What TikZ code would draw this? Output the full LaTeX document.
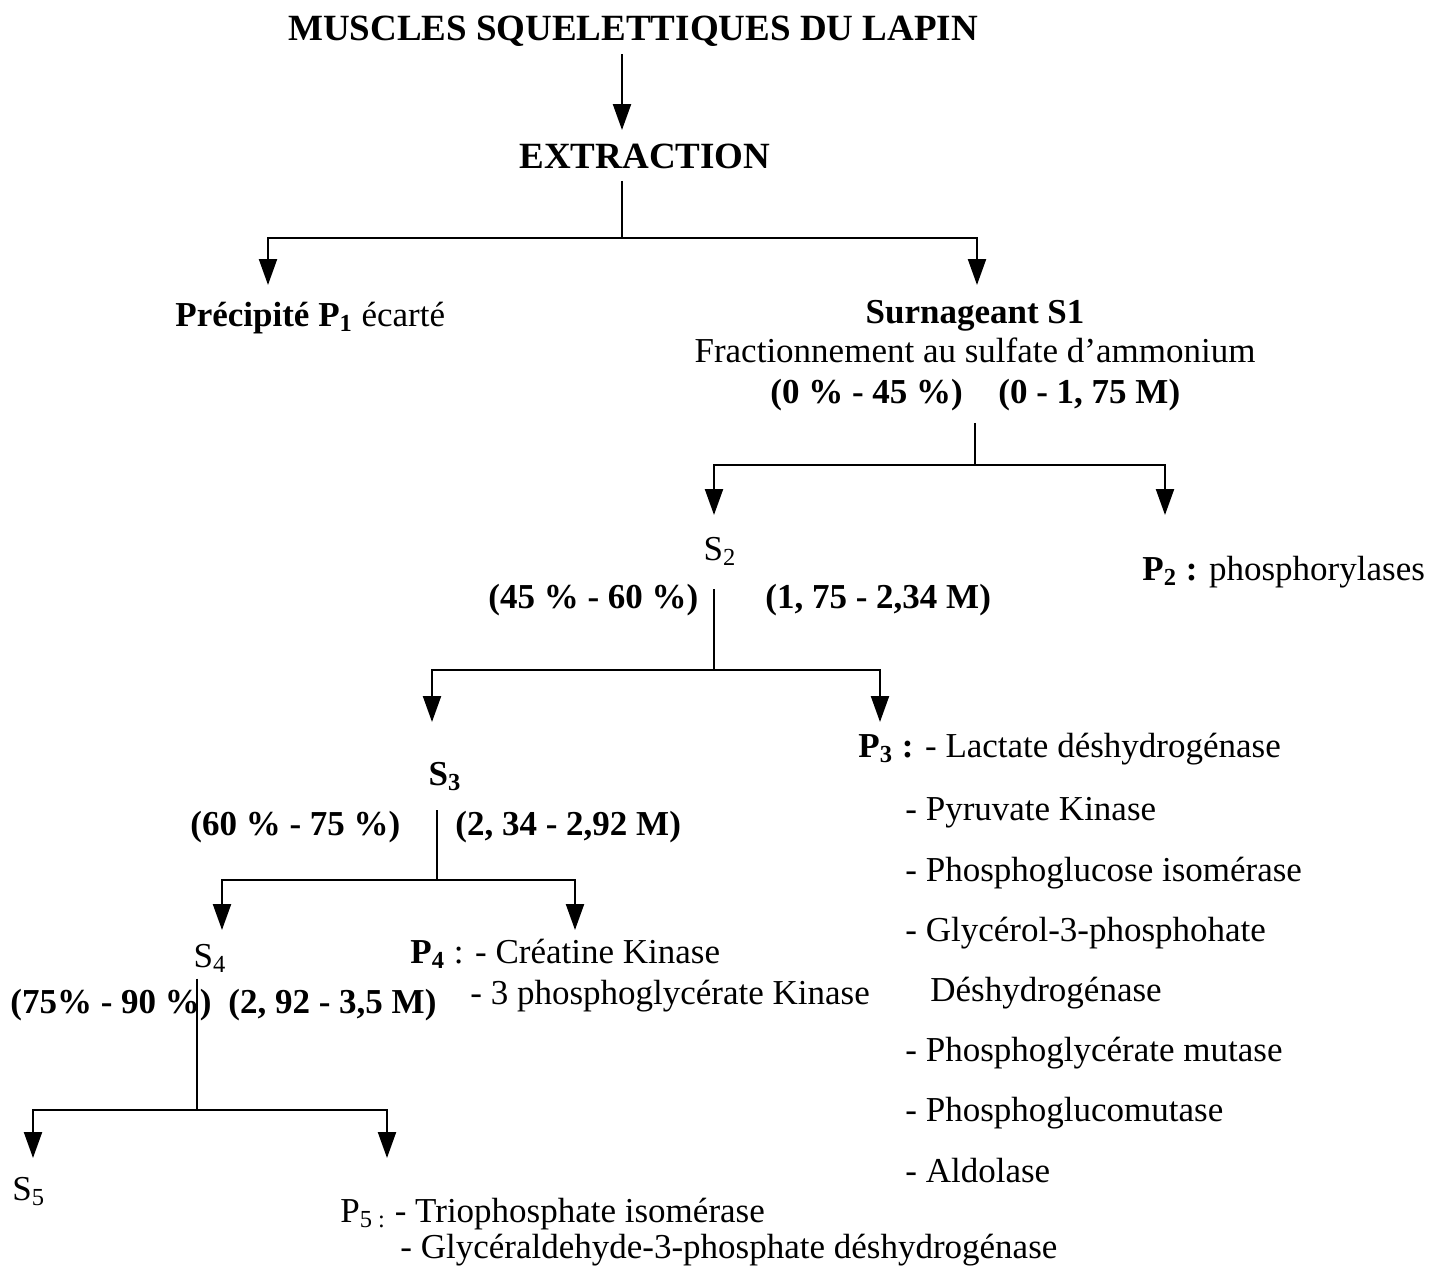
\documentclass[tikz,border=0pt]{standalone}
\usepackage{fontspec}
\setmainfont{Liberation Serif}
\usetikzlibrary{arrows.meta}
\newcommand{\low}[1]{\textsubscript{#1}}
\begin{document}
\begin{tikzpicture}[x=0.5pt,y=-0.5pt,
  every node/.style={inner sep=0pt,font=\fontsize{17.5}{21}\selectfont},
  txt/.style={anchor=base west},
  mid/.style={anchor=base},
  link/.style={line width=1.1pt},
  arr/.style={line width=1.1pt,-{Triangle[width=9pt,length=13pt]}}]
\useasboundingbox (0,0) rectangle (1437,1269);
% titre et extraction
\node[mid,font=\fontsize{18.5}{22}\selectfont] (title) at (633,40) {\textbf{MUSCLES SQUELETTIQUES DU LAPIN}};
\node[mid,font=\fontsize{18.5}{22}\selectfont] (extr) at (645,168) {\textbf{EXTRACTION}};
\node[txt] (p1) at (175,326) {\textbf{Précipité P\low{1}} écarté};
\node[mid] (s1) at (975,323) {\textbf{Surnageant S1}};
\node[mid] (frac) at (975,362) {Fractionnement au sulfate d'ammonium};
\node[txt] (c1a) at (770,403) {\textbf{(0 \% - 45 \%)}};
\node[txt] (c1b) at (998,403) {\textbf{(0 - 1, 75 M)}};
% deuxieme coupe
\node[mid] (s2) at (720,560) {S\low{2}};
\node[txt] (p2) at (1142,580) {\textbf{P\low{2} :} phosphorylases};
\node[txt] (c2a) at (488,608) {\textbf{(45 \% - 60 \%)}};
\node[txt] (c2b) at (765,608) {\textbf{(1, 75 - 2,34 M)}};
% troisieme coupe
\node[txt] (p3) at (858,757) {\textbf{P\low{3} :} - Lactate déshydrogénase};
\foreach \y/\t [count=\i] in {820/- Pyruvate Kinase,881/- Phosphoglucose isomérase,
  941/- Glycérol-3-phosphohate,1061/- Phosphoglycérate mutase,
  1121/- Phosphoglucomutase,1182/- Aldolase}
  \node[txt] (p3l\i) at (905,\y) {\t};
\node[txt] (p3d) at (930,1001) {Déshydrogénase};
\node[mid] (s3) at (445,785) {\textbf{S\low{3}}};
\node[txt] (c3a) at (190,835) {\textbf{(60 \% - 75 \%)}};
\node[txt] (c3b) at (455,835) {\textbf{(2, 34 - 2,92 M)}};
% quatrieme coupe
\node[mid] (s4) at (210,967) {S\low{4}};
\node[txt] (p4) at (410,963) {\textbf{P\low{4}} : - Créatine Kinase};
\node[txt] (p4b) at (470,1004) {- 3 phosphoglycérate Kinase};
\node[txt] (c4a) at (10,1013) {\textbf{(75\% - 90 \%)}};
\node[txt] (c4b) at (228,1013) {\textbf{(2, 92 - 3,5 M)}};
% cinquieme coupe
\node[txt] (s5) at (12,1200) {S\low{5}};
\node[txt] (p5) at (340,1222) {P\low{5 :} - Triophosphate isomérase};
\node[txt] (p5b) at (400,1258) {- Glycéraldehyde-3-phosphate déshydrogénase};
% fleches
\coordinate (t0) at (622,130);
\draw[arr,shorten <=4pt] (title.south -| t0) -- (t0);
\coordinate (b1) at (622,238);
\coordinate (p1tip) at (268,285);
\coordinate (s1tip) at (977,285);
\draw[link,shorten <=6pt] (extr.south -| b1) -- (b1);
\draw[arr] (b1) -| (p1tip);
\draw[arr] (b1) -| (s1tip);
\coordinate (b2) at (975,465);
\coordinate (s2tip) at (714,515);
\coordinate (p2tip) at (1165,515);
\draw[link,shorten <=6pt] (c1a.south -| b2) -- (b2);
\draw[arr] (b2) -| (s2tip);
\draw[arr] (b2) -| (p2tip);
\coordinate (b3) at (714,670);
\coordinate (s3tip) at (432,722);
\coordinate (p3tip) at (880,722);
\draw[link,shorten <=3pt] (c2a.north -| b3) -- (b3);
\draw[arr] (b3) -| (s3tip);
\draw[arr] (b3) -| (p3tip);
\coordinate (b4) at (437,880);
\coordinate (s4tip) at (222,930);
\coordinate (p4tip) at (575,930);
\draw[link] (c3a.north -| b4) -- (b4);
\draw[arr] (b4) -| (s4tip);
\draw[arr] (b4) -| (p4tip);
\coordinate (b5) at (197,1110);
\coordinate (s5tip) at (33,1158);
\coordinate (p5tip) at (387,1158);
\draw[link,shorten <=3pt] (s4.south -| b5) -- (b5);
\draw[arr] (b5) -| (s5tip);
\draw[arr] (b5) -| (p5tip);
\end{tikzpicture}
\end{document}
